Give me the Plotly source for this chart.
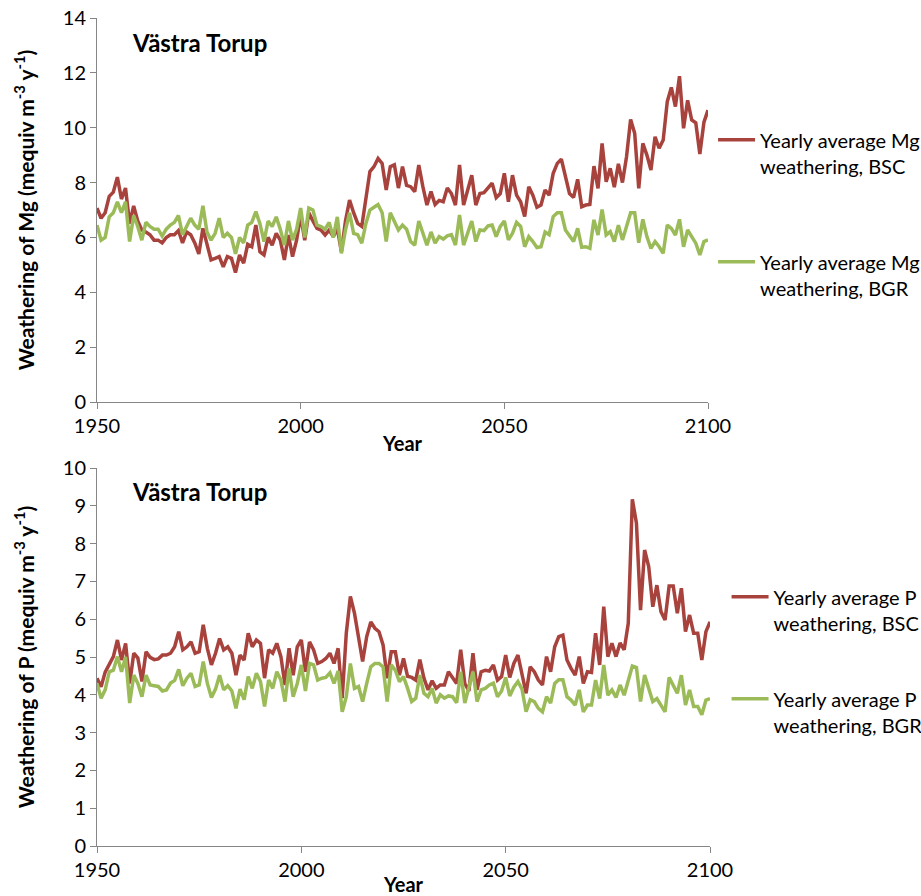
import plotly.graph_objects as go

years = list(range(1950, 2101))

mg_bsc = [
    7.07, 6.7, 6.9, 7.5, 7.65, 8.2, 7.4, 7.8, 6.5, 7.15,
    6.6, 6.27, 6.2, 6.1, 5.9, 5.9, 5.8, 6.0, 6.1, 6.1,
    6.25, 5.8, 6.2, 6.1, 5.8, 5.4, 6.33, 5.72, 5.18, 5.24,
    5.3, 4.93, 5.3, 5.24, 4.72, 5.36, 5.06, 5.75, 5.66, 6.45,
    5.48, 5.36, 6.0, 5.72, 6.15, 5.9, 5.18, 6.09, 5.3, 5.9,
    6.8, 5.9, 6.9, 6.6, 6.33, 6.27, 6.09, 6.27, 6.03, 6.33,
    5.48, 6.6, 7.36, 6.9, 6.51, 6.4, 7.45, 8.4, 8.58, 8.88,
    8.7, 7.73, 8.58, 8.65, 7.8, 8.58, 7.9, 7.85, 7.67, 8.64,
    7.85, 7.18, 7.67, 7.2, 7.35, 7.3, 7.8, 7.6, 7.18, 8.64,
    7.18, 7.67, 8.27, 7.18, 7.6, 7.63, 7.8, 7.98, 7.45, 7.6,
    8.34, 7.3, 8.27, 7.54, 7.3, 6.76, 7.85, 7.54, 7.1, 7.18,
    7.73, 7.54, 8.34, 8.7, 8.85, 8.27, 7.6, 7.46, 8.12, 7.12,
    7.18, 7.2, 8.6, 7.79, 9.43, 8.03, 8.52, 7.83, 8.68, 8.0,
    8.94, 10.3, 9.8, 7.79, 9.43, 9.0, 8.46, 9.67, 9.25, 9.55,
    10.95, 11.47, 10.77, 11.88, 9.98, 11.0, 10.28, 10.18, 9.04, 10.2,
    10.64,
]

mg_bgr = [
    6.45, 5.9, 6.0, 6.75, 6.9, 7.3, 6.9, 7.3, 5.85, 6.8,
    6.4, 5.9, 6.55, 6.4, 6.3, 6.3, 6.05, 6.3, 6.45, 6.55,
    6.8, 6.1, 6.4, 6.7, 6.45, 6.3, 7.15, 6.2, 5.9, 6.15,
    6.7, 6.0, 6.15, 6.0, 5.4, 6.0, 5.8, 6.45, 6.55, 6.94,
    6.5, 5.85, 6.6, 6.4, 6.75, 6.3, 5.72, 6.6, 5.9, 6.3,
    7.07, 6.0, 7.07, 7.0, 6.45, 6.4, 6.3, 6.55, 6.0, 6.75,
    5.42, 6.27, 6.9, 6.15, 6.1, 5.79, 6.5, 7.0, 7.1, 7.2,
    6.9, 5.85, 6.9, 6.6, 6.27, 6.45, 6.3, 5.85, 5.72, 6.6,
    6.15, 5.72, 6.2, 5.79, 6.03, 5.94, 6.06, 6.1, 5.72, 6.82,
    5.72, 6.15, 6.6, 5.85, 6.27, 6.25, 6.42, 6.45, 6.03, 6.4,
    6.6, 5.91, 6.15, 6.55, 6.4, 5.66, 6.03, 5.85, 5.63, 5.66,
    6.2, 6.1, 6.76, 6.9, 6.9, 6.27, 6.03, 5.85, 6.33, 5.64,
    5.66, 5.6, 6.64, 6.09, 7.02, 6.09, 6.21, 5.85, 6.45, 5.91,
    6.4, 6.9, 6.9, 5.81, 6.66, 6.03, 5.6, 5.85, 5.66, 5.42,
    6.45, 6.33, 6.09, 6.66, 5.66, 6.27, 6.03, 5.79, 5.36, 5.85,
    5.91,
]

p_bsc = [
    4.44, 4.21, 4.6, 4.83, 5.01, 5.45, 4.92, 5.36, 4.3, 5.1,
    4.97, 4.35, 5.14, 4.99, 4.93, 4.95, 5.05, 5.05, 5.1, 5.27,
    5.67, 5.19, 5.27, 5.4, 5.1, 5.14, 5.85, 5.23, 4.79, 5.1,
    5.49, 5.19, 5.27, 5.1, 4.52, 5.05, 4.92, 5.63, 5.27, 5.45,
    5.36, 4.44, 5.19, 5.1, 5.36, 5.01, 4.26, 5.23, 4.52, 5.27,
    5.45, 4.61, 5.4, 5.19, 4.83, 4.88, 4.96, 5.1, 4.83, 5.23,
    3.91, 5.63, 6.6, 6.16, 5.45, 4.88, 5.54, 5.93, 5.76, 5.67,
    5.32, 4.44, 5.14, 5.14, 4.52, 4.96, 4.49, 4.46, 4.39, 4.93,
    4.44, 4.13, 4.37, 4.17, 4.26, 4.26, 4.61, 4.46, 4.3, 5.19,
    4.3, 4.1, 5.1, 4.13, 4.61, 4.65, 4.63, 4.79, 4.39, 4.48,
    5.05, 4.46, 4.83, 5.05, 4.52, 4.04, 4.74, 4.61, 4.39, 4.26,
    5.01, 4.61, 5.27, 5.54, 5.58, 4.92, 4.7, 4.52, 5.01, 4.3,
    4.61, 4.59, 5.63, 4.79, 6.33, 5.01, 5.36, 5.01, 5.37, 5.19,
    5.89, 9.17, 8.54, 6.24, 7.83, 7.39, 6.33, 6.9, 6.2, 5.98,
    6.88, 6.88, 6.16, 6.82, 5.67, 6.11, 5.63, 5.63, 4.92, 5.67,
    5.93,
]

p_bgr = [
    4.3, 3.91, 4.13, 4.61, 4.65, 5.01, 4.61, 5.0, 3.78, 4.52,
    4.3, 3.95, 4.52, 4.26, 4.24, 4.22, 4.1, 4.13, 4.31, 4.38,
    4.67, 4.24, 4.44, 4.57, 4.22, 4.26, 4.88, 4.3, 3.93, 4.15,
    4.52, 4.13, 4.24, 4.1, 3.64, 4.15, 3.87, 4.48, 4.17, 4.57,
    4.35, 3.69, 4.39, 4.17, 4.61, 4.39, 3.82, 4.7, 3.95, 4.3,
    4.79, 4.1, 4.83, 4.79, 4.39, 4.44, 4.46, 4.58, 4.3, 4.63,
    3.55, 3.95, 4.83, 4.17, 4.22, 3.82, 4.3, 4.74, 4.83, 4.83,
    4.74, 3.82, 4.79, 4.65, 4.35, 4.48, 4.17, 3.82, 3.91, 4.52,
    4.04, 3.95, 4.17, 3.78, 4.0, 3.91, 3.97, 3.95, 3.79, 4.61,
    3.78, 4.22, 4.61, 3.82, 4.13, 4.17, 4.26, 4.31, 3.95, 4.1,
    4.46, 3.97, 4.2, 4.35, 4.15, 3.55, 3.87, 3.82, 3.64, 3.55,
    3.95, 3.78, 4.3, 4.4, 4.4, 3.95, 3.86, 3.73, 4.13, 3.55,
    3.73, 3.73, 4.39, 3.9, 4.79, 3.99, 4.13, 3.93, 4.26, 3.99,
    4.39, 4.76, 4.72, 3.82, 4.52, 4.13, 3.82, 3.9, 3.73, 3.55,
    4.46, 4.26, 4.04, 4.52, 3.73, 4.13, 3.69, 3.69, 3.47, 3.86,
    3.9,
]

x_ticks = [1950, 2000, 2050, 2100]
site = "Västra Torup"

RED = "#A8423D"
GREEN = "#9BBB59"
AX = "#868686"
FONT = "Lato"

fig = go.Figure()
fig.add_trace(go.Scatter(x=years, y=mg_bsc, mode="lines", line=dict(color=RED, width=3.5),
                         name="Yearly average Mg<br>weathering, BSC", xaxis="x", yaxis="y",
                         legend="legend", legendgroup="a"))
fig.add_trace(go.Scatter(x=years, y=mg_bgr, mode="lines", line=dict(color=GREEN, width=3.5),
                         name="Yearly average Mg<br>weathering, BGR", xaxis="x", yaxis="y",
                         legend="legend", legendgroup="b"))
fig.add_trace(go.Scatter(x=years, y=p_bsc, mode="lines", line=dict(color=RED, width=3.5),
                         name="Yearly average P<br>weathering, BSC", xaxis="x2", yaxis="y2",
                         legend="legend2", legendgroup="c"))
fig.add_trace(go.Scatter(x=years, y=p_bgr, mode="lines", line=dict(color=GREEN, width=3.5),
                         name="Yearly average P<br>weathering, BGR", xaxis="x2", yaxis="y2",
                         legend="legend2", legendgroup="d"))

axis_common = dict(showline=True, linecolor=AX, linewidth=1, ticks="outside", ticklen=6,
                   tickcolor=AX, showgrid=False, zeroline=False,
                   tickfont=dict(family=FONT, size=20, color="#000000"))

fig.update_layout(
    width=921, height=896,
    margin=dict(l=97, r=211, t=18, b=50, autoexpand=False),
    plot_bgcolor="white", paper_bgcolor="white",
    font=dict(family=FONT, color="#000000"),
    xaxis=dict(domain=[0, 611 / 613], range=[1950, 2100], tickvals=x_ticks, anchor="y",
               title=dict(text="<b>Year</b>", font=dict(size=20, family=FONT), standoff=0),
               **axis_common),
    yaxis=dict(domain=[444 / 828, 1], range=[0, 14], dtick=2, anchor="x",
               title=dict(text="<b>Weathering of Mg (mequiv m<sup>-3</sup> y<sup>-1</sup>)</b>",
                          font=dict(size=21, family=FONT), standoff=22),
               **axis_common),
    xaxis2=dict(domain=[0, 1], range=[1950, 2100], tickvals=x_ticks, anchor="y2",
                title=dict(text="<b>Year</b>", font=dict(size=20, family=FONT), standoff=0),
                **axis_common),
    yaxis2=dict(domain=[0, 378 / 828], range=[0, 10], dtick=1, anchor="x2",
                title=dict(text="<b>Weathering of P (mequiv m<sup>-3</sup> y<sup>-1</sup>)</b>",
                           font=dict(size=21, family=FONT), standoff=22),
                **axis_common),
    legend=dict(x=1.005, y=0.8764, xanchor="left", yanchor="top", valign="top", itemwidth=37,
                tracegroupgap=67, font=dict(size=20, family=FONT), bgcolor="rgba(0,0,0,0)"),
    legend2=dict(x=1.027, y=0.3245, xanchor="left", yanchor="top", valign="top", itemwidth=37,
                 tracegroupgap=47, font=dict(size=20, family=FONT), bgcolor="rgba(0,0,0,0)"),
    annotations=[
        dict(text=f"<b>{site}</b>", xref="x domain", yref="y domain", x=0.054, y=0.935,
             xanchor="left", yanchor="middle", showarrow=False, font=dict(size=24, family=FONT)),
        dict(text=f"<b>{site}</b>", xref="x2 domain", yref="y2 domain", x=0.054, y=0.937,
             xanchor="left", yanchor="middle", showarrow=False, font=dict(size=24, family=FONT)),
    ],
)

fig.write_html("out.html")
